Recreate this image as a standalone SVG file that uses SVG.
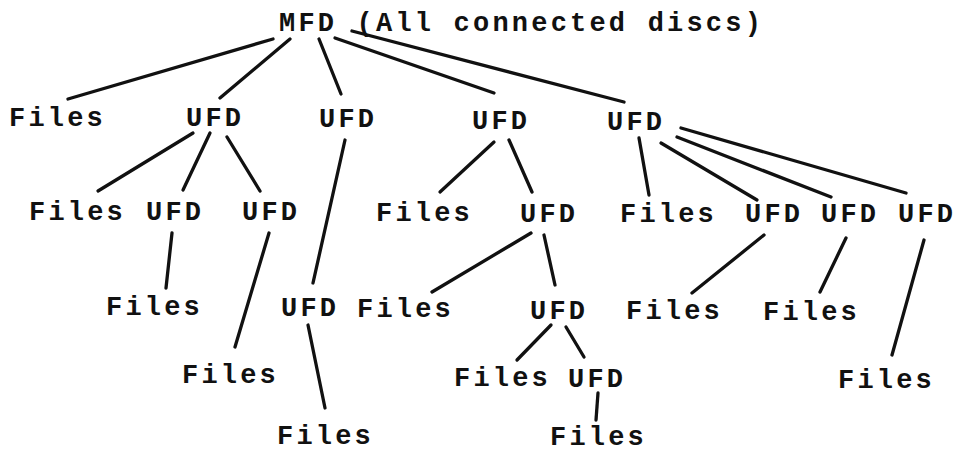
<svg xmlns="http://www.w3.org/2000/svg" width="959" height="452" viewBox="0 0 959 452">
<style>
text{font-family:"Liberation Mono","DejaVu Sans Mono",monospace;font-size:27px;font-weight:bold;letter-spacing:3.2px;fill:#111}
.c line,.c path{stroke:#111;stroke-width:3.3;stroke-linecap:round;fill:none}
</style>
<rect width="959" height="452" fill="#fff"/>
<g class="c" id="connectors">
<path d="M273,39 Q200,60 68,99"/>
<line x1="290" y1="39" x2="220" y2="98"/>
<line x1="319" y1="39" x2="341" y2="94"/>
<line x1="335" y1="38" x2="494" y2="93"/>
<line x1="352" y1="31" x2="624" y2="102"/>
<line x1="193" y1="133" x2="98" y2="191"/>
<line x1="210" y1="133" x2="183" y2="190"/>
<line x1="227" y1="137" x2="260" y2="191"/>
<line x1="345" y1="140" x2="313" y2="283"/>
<line x1="494" y1="142" x2="440" y2="192"/>
<line x1="509" y1="140" x2="532" y2="192"/>
<line x1="639" y1="138" x2="649" y2="195"/>
<line x1="661" y1="143" x2="757" y2="200"/>
<line x1="677" y1="137" x2="831" y2="197"/>
<line x1="681" y1="128" x2="906" y2="193"/>
<line x1="172" y1="233" x2="166" y2="288"/>
<line x1="269" y1="233" x2="235" y2="347"/>
<line x1="531" y1="233" x2="432" y2="292"/>
<line x1="544" y1="235" x2="555" y2="285"/>
<line x1="764" y1="235" x2="692" y2="293"/>
<line x1="846" y1="238" x2="820" y2="292"/>
<line x1="924" y1="240" x2="892" y2="355"/>
<line x1="308" y1="325" x2="325" y2="408"/>
<line x1="551" y1="325" x2="517" y2="360"/>
<line x1="566" y1="327" x2="584" y2="357"/>
<line x1="598" y1="393" x2="596" y2="420"/>
</g>
<g id="mfd"><text x="279" y="31">MFD (All connected discs)</text></g>
<g id="r1-files"><text x="9" y="126">Files</text></g>
<g id="r1-ufd1"><text x="186" y="126">UFD</text></g>
<g id="r1-ufd2"><text x="319" y="127">UFD</text></g>
<g id="r1-ufd3"><text x="472" y="129">UFD</text></g>
<g id="r1-ufd4"><text x="607" y="130">UFD</text></g>
<g id="r2-files1"><text x="29" y="220">Files</text></g>
<g id="r2-ufd1"><text x="146" y="220">UFD</text></g>
<g id="r2-ufd2"><text x="242" y="220">UFD</text></g>
<g id="r2-files2"><text x="376" y="221">Files</text></g>
<g id="r2-ufd3"><text x="520" y="222">UFD</text></g>
<g id="r2-files3"><text x="620" y="222">Files</text></g>
<g id="r2-ufd4"><text x="745" y="222">UFD</text></g>
<g id="r2-ufd5"><text x="821" y="222">UFD</text></g>
<g id="r2-ufd6"><text x="898" y="222">UFD</text></g>
<g id="r3-files1"><text x="106" y="315">Files</text></g>
<g id="r3-ufd1"><text x="281" y="316">UFD</text></g>
<g id="r3-files2"><text x="357" y="317">Files</text></g>
<g id="r3-ufd2"><text x="530" y="319">UFD</text></g>
<g id="r3-files3"><text x="626" y="319">Files</text></g>
<g id="r3-files4"><text x="763" y="320">Files</text></g>
<g id="r4-files1"><text x="182" y="383">Files</text></g>
<g id="r4-files2"><text x="454" y="386">Files</text></g>
<g id="r4-ufd"><text x="568" y="387">UFD</text></g>
<g id="r4-files3"><text x="838" y="388">Files</text></g>
<g id="r5-files1"><text x="277" y="444">Files</text></g>
<g id="r5-files2"><text x="550" y="445">Files</text></g>
</svg>
